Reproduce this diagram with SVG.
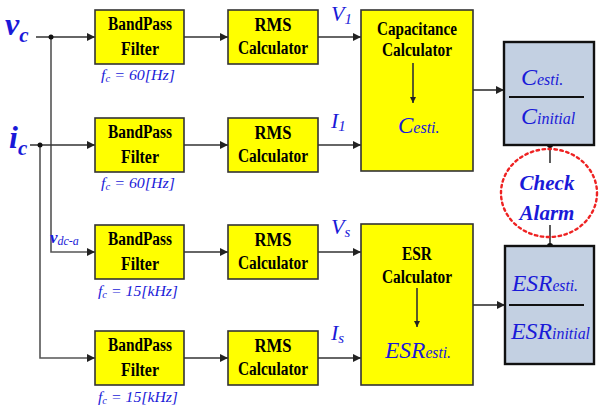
<svg xmlns="http://www.w3.org/2000/svg" width="600" height="412" viewBox="0 0 600 412">
<style>
.yb{fill:#ffff00;stroke:#333;stroke-width:1.6}
.gb{fill:#c3d0e2;stroke:#111;stroke-width:2.4}
.bt{font-family:'Liberation Serif','Times New Roman',serif;font-weight:bold;font-size:18px;fill:#000;text-anchor:middle}
.bl{font-family:'Liberation Serif','DejaVu Serif',serif;font-style:italic;fill:#1a1ad8}
.fc{font-size:15px}
.ln{fill:none;stroke:#333;stroke-width:1.6}
.gl{fill:none;stroke:#555;stroke-width:1.6}
</style>
<defs>
<marker id="ah" viewBox="0 0 10 10" refX="10" refY="5" markerWidth="6" markerHeight="6" orient="auto" markerUnits="userSpaceOnUse">
<path d="M0,0 L10,5 L0,10 z" fill="#222"/>
</marker>
<marker id="ah2" viewBox="0 0 10 10" refX="10" refY="5" markerWidth="8" markerHeight="8" orient="auto" markerUnits="userSpaceOnUse">
<path d="M0,0 L10,5 L0,10 z" fill="#222"/>
</marker>
</defs>

<g id="connectors">
<path class="ln" d="M36,37 H95" marker-end="url(#ah2)"/>
<path class="gl" d="M51,37 V252 H95" marker-end="url(#ah2)"/>
<path class="ln" d="M30,145 H95" marker-end="url(#ah2)"/>
<path class="gl" d="M40,145 V358 H95" marker-end="url(#ah2)"/>
<circle cx="51" cy="37" r="2.5" fill="#111"/>
<circle cx="40" cy="145" r="2.5" fill="#111"/>
<path class="ln" d="M184,37 H228" marker-end="url(#ah2)"/>
<path class="ln" d="M184,145 H228" marker-end="url(#ah2)"/>
<path class="ln" d="M184,252 H228" marker-end="url(#ah2)"/>
<path class="ln" d="M184,358 H228" marker-end="url(#ah2)"/>
<path class="ln" d="M318,37 H361" marker-end="url(#ah2)"/>
<path class="ln" d="M318,145 H361" marker-end="url(#ah2)"/>
<path class="ln" d="M318,252 H361" marker-end="url(#ah2)"/>
<path class="ln" d="M318,358 H361" marker-end="url(#ah2)"/>
<path class="ln" d="M473,90 H504" marker-end="url(#ah2)"/>
<path class="ln" d="M473,305 H505" marker-end="url(#ah2)"/>
<path class="ln" d="M550,145 V163"/>
<path class="ln" d="M550,246 V225"/>
<circle cx="550" cy="145" r="3" fill="#111"/>
<circle cx="550" cy="246" r="3" fill="#111"/>
</g>

<g id="vc"><text class="bl" x="5" y="35" font-size="32" font-weight="bold">v<tspan font-size="21" dy="7">c</tspan></text></g>
<g id="ic"><text class="bl" x="9" y="148" font-size="32" font-weight="bold">i<tspan font-size="21" dy="7">c</tspan></text></g>
<g id="vdca"><text class="bl" x="50" y="243" font-size="17" font-weight="bold">v<tspan font-size="12" font-weight="normal" dy="2">dc-a</tspan></text></g>

<g id="bp1">
<rect class="yb" x="95" y="10" width="89" height="54"/>
<text class="bt" x="140" y="30" textLength="64" lengthAdjust="spacingAndGlyphs">BandPass</text>
<text class="bt" x="140" y="55" textLength="38" lengthAdjust="spacingAndGlyphs">Filter</text>
<text class="bl fc" x="101" y="80" textLength="74" lengthAdjust="spacingAndGlyphs">f<tspan font-size="10" dy="2">c</tspan><tspan dy="-2"> = 60[Hz]</tspan></text>
</g>
<g id="bp2">
<rect class="yb" x="95" y="118" width="89" height="54"/>
<text class="bt" x="140" y="138" textLength="64" lengthAdjust="spacingAndGlyphs">BandPass</text>
<text class="bt" x="140" y="163" textLength="38" lengthAdjust="spacingAndGlyphs">Filter</text>
<text class="bl fc" x="101" y="188" textLength="74" lengthAdjust="spacingAndGlyphs">f<tspan font-size="10" dy="2">c</tspan><tspan dy="-2"> = 60[Hz]</tspan></text>
</g>
<g id="bp3">
<rect class="yb" x="95" y="225" width="89" height="54"/>
<text class="bt" x="140" y="245" textLength="64" lengthAdjust="spacingAndGlyphs">BandPass</text>
<text class="bt" x="140" y="270" textLength="38" lengthAdjust="spacingAndGlyphs">Filter</text>
<text class="bl fc" x="98" y="296" textLength="80" lengthAdjust="spacingAndGlyphs">f<tspan font-size="10" dy="2">c</tspan><tspan dy="-2"> = 15[kHz]</tspan></text>
</g>
<g id="bp4">
<rect class="yb" x="95" y="331" width="89" height="54"/>
<text class="bt" x="140" y="351" textLength="64" lengthAdjust="spacingAndGlyphs">BandPass</text>
<text class="bt" x="140" y="376" textLength="38" lengthAdjust="spacingAndGlyphs">Filter</text>
<text class="bl fc" x="98" y="402" textLength="80" lengthAdjust="spacingAndGlyphs">f<tspan font-size="10" dy="2">c</tspan><tspan dy="-2"> = 15[kHz]</tspan></text>
</g>

<g id="rms1">
<rect class="yb" x="228" y="10" width="90" height="54"/>
<text class="bt" x="273" y="31" textLength="37" lengthAdjust="spacingAndGlyphs">RMS</text>
<text class="bt" x="273" y="54" textLength="70" lengthAdjust="spacingAndGlyphs">Calculator</text>
</g>
<g id="rms2">
<rect class="yb" x="228" y="118" width="90" height="54"/>
<text class="bt" x="273" y="139" textLength="37" lengthAdjust="spacingAndGlyphs">RMS</text>
<text class="bt" x="273" y="162" textLength="70" lengthAdjust="spacingAndGlyphs">Calculator</text>
</g>
<g id="rms3">
<rect class="yb" x="228" y="225" width="90" height="54"/>
<text class="bt" x="273" y="246" textLength="37" lengthAdjust="spacingAndGlyphs">RMS</text>
<text class="bt" x="273" y="269" textLength="70" lengthAdjust="spacingAndGlyphs">Calculator</text>
</g>
<g id="rms4">
<rect class="yb" x="228" y="331" width="90" height="54"/>
<text class="bt" x="273" y="352" textLength="37" lengthAdjust="spacingAndGlyphs">RMS</text>
<text class="bt" x="273" y="375" textLength="70" lengthAdjust="spacingAndGlyphs">Calculator</text>
</g>

<g id="labels">
<text class="bl" x="331" y="21" font-size="22">V<tspan font-size="15" dy="3">1</tspan></text>
<text class="bl" x="331" y="128" font-size="22">I<tspan font-size="15" dy="3">1</tspan></text>
<text class="bl" x="331" y="234" font-size="22">V<tspan font-size="15" dy="3">s</tspan></text>
<text class="bl" x="331" y="340" font-size="22">I<tspan font-size="15" dy="3">s</tspan></text>
</g>

<g id="cap">
<rect class="yb" x="361" y="10" width="112" height="161"/>
<text class="bt" x="417" y="35" font-size="16" textLength="80" lengthAdjust="spacingAndGlyphs">Capacitance</text>
<text class="bt" x="417" y="56" font-size="16" textLength="70" lengthAdjust="spacingAndGlyphs">Calculator</text>
<path class="ln" d="M413,63 V103" marker-end="url(#ah)"/>
<text class="bl" x="398" y="133" font-size="23">C<tspan font-size="16">esti.</tspan></text>
</g>

<g id="esr">
<rect class="yb" x="361" y="224" width="112" height="161"/>
<text class="bt" x="417" y="260" textLength="30" lengthAdjust="spacingAndGlyphs">ESR</text>
<text class="bt" x="417" y="283" textLength="70" lengthAdjust="spacingAndGlyphs">Calculator</text>
<path class="ln" d="M417,288 V327" marker-end="url(#ah)"/>
<text class="bl" x="385" y="358" font-size="24" textLength="66" lengthAdjust="spacingAndGlyphs">ESR<tspan font-size="16">esti.</tspan></text>
</g>

<g id="ratioC">
<rect class="gb" x="504" y="42" width="90" height="103"/>
<text class="bl" x="521" y="85" font-size="24">C<tspan font-size="16">esti.</tspan></text>
<line x1="509" y1="97" x2="584" y2="97" stroke="#111" stroke-width="2"/>
<text class="bl" x="521" y="124" font-size="24">C<tspan font-size="16">initial</tspan></text>
</g>

<g id="ratioESR">
<rect class="gb" x="505" y="246" width="89" height="118"/>
<text class="bl" x="512" y="291" font-size="24" textLength="66" lengthAdjust="spacingAndGlyphs">ESR<tspan font-size="16">esti.</tspan></text>
<line x1="509" y1="305" x2="584" y2="305" stroke="#111" stroke-width="2"/>
<text class="bl" x="511" y="339" font-size="24" textLength="79" lengthAdjust="spacingAndGlyphs">ESR<tspan font-size="16">initial</tspan></text>
</g>

<g id="alarm">
<ellipse cx="549" cy="193" rx="48" ry="44" fill="none" stroke="#ee2222" stroke-width="2.4" stroke-dasharray="2.5 3.5" stroke-linecap="round"/>
<text class="bl" x="547" y="190" font-size="21" font-weight="bold" text-anchor="middle">Check</text>
<text class="bl" x="547" y="220" font-size="21" font-weight="bold" text-anchor="middle">Alarm</text>
</g>
</svg>
